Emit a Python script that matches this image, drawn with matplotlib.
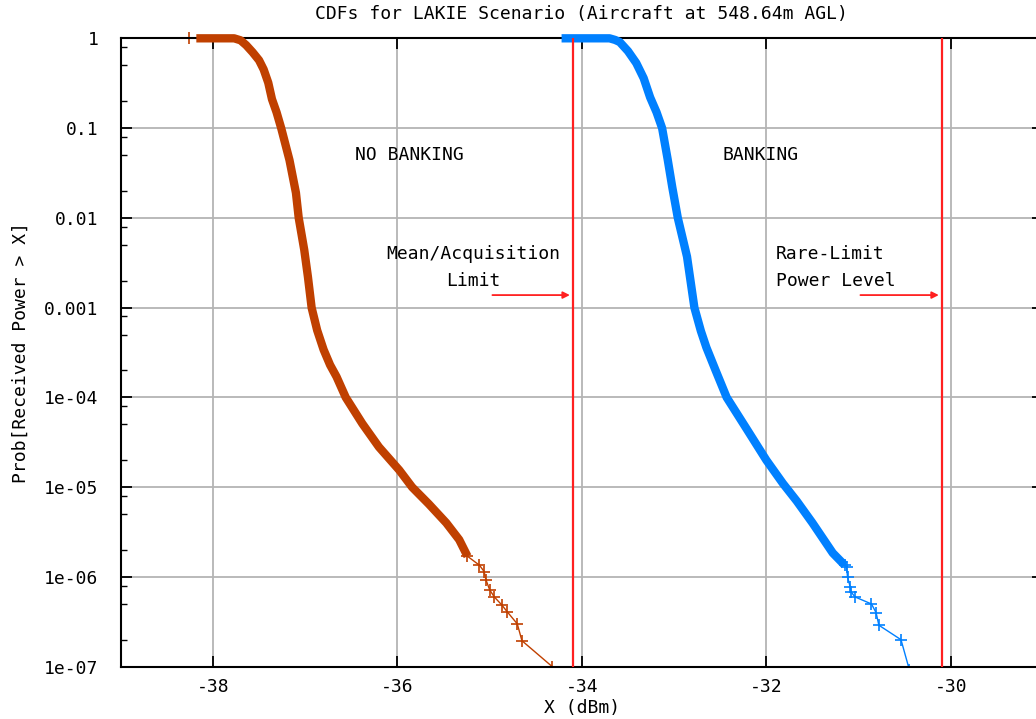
import matplotlib
matplotlib.use("Agg")
import matplotlib.pyplot as plt
from matplotlib.ticker import LogLocator, NullFormatter

plt.rcParams['font.family'] = ['DejaVu Sans Mono']

# NO BANKING curve (dBm, P[power > x])
nobank_x = [-38.26, -38.18, -37.77, -37.70, -37.64, -37.57, -37.50, -37.45, -37.40, -37.36,
            -37.31, -37.26, -37.17, -37.10, -37.07, -37.01, -36.97, -36.93, -36.87, -36.80,
            -36.73, -36.66, -36.56, -36.38, -36.20, -35.98, -35.84, -35.66, -35.47, -35.33,
            -35.24, -35.11, -35.06, -35.04, -35.00, -34.95, -34.87, -34.81, -34.70, -34.65,
            -34.32]
nobank_p = [1.0, 1.0, 1.0, 0.95, 0.84, 0.70, 0.57, 0.45, 0.32, 0.21,
            0.15, 0.1, 0.044, 0.019, 0.01, 4.4e-3, 2.2e-3, 1.0e-3, 5.6e-4, 3.4e-4,
            2.3e-4, 1.7e-4, 1.0e-4, 5.1e-5, 2.8e-5, 1.55e-5, 1.0e-5, 6.5e-6, 4.0e-6, 2.6e-6,
            1.7e-6, 1.35e-6, 1.15e-6, 9.3e-7, 7.2e-7, 6.0e-7, 4.9e-7, 4.1e-7, 3.0e-7, 1.95e-7,
            1.0e-7]
nobank_dense = (1, 31)

# BANKING curve
bank_x = [-34.22, -33.70, -33.64, -33.59, -33.50, -33.41, -33.33, -33.26, -33.19, -33.13,
          -33.07, -33.02, -32.96, -32.86, -32.78, -32.71, -32.65, -32.55, -32.43, -32.21,
          -32.00, -31.82, -31.67, -31.50, -31.28, -31.15, -31.13, -31.12, -31.09, -31.08,
          -31.04, -30.86, -30.81, -30.78, -30.54, -30.45]
bank_p = [1.0, 1.0, 0.96, 0.91, 0.72, 0.53, 0.36, 0.22, 0.15, 0.1,
          0.045, 0.022, 0.01, 3.7e-3, 1.0e-3, 5.5e-4, 3.6e-4, 2.0e-4, 1.0e-4, 4.4e-5,
          2.0e-5, 1.1e-5, 7.0e-6, 4.0e-6, 1.85e-6, 1.35e-6, 1.3e-6, 1.0e-6, 7.7e-7, 6.8e-7,
          6.0e-7, 5.0e-7, 4.0e-7, 2.9e-7, 2.0e-7, 9.3e-8]
bank_dense = (0, 26)

mean_limit = -34.1
rare_limit = -30.1

xticks = [-38, -36, -34, -32, -30]
yticks = [1, 0.1, 0.01, 0.001, 1e-4, 1e-5, 1e-6, 1e-7]
ytick_labels = ['1', '0.1', '0.01', '0.001', '1e-04', '1e-05', '1e-06', '1e-07']

brown = '#c04000'
blue = '#0080ff'
red = '#ff2020'

fig = plt.figure(figsize=(10.36, 7.19), dpi=100)
ax = fig.add_axes([0.1165, 0.0727, 0.8903, 0.874])
ax.set_yscale('log')
ax.set_xlim(-39, -29)
ax.set_ylim(1e-7, 1)

ax.grid(True, which='major', color='#b4b4b4', lw=1.3)
ax.set_axisbelow(True)

for xs, ps, (a, b), c in [(nobank_x, nobank_p, nobank_dense, brown),
                          (bank_x, bank_p, bank_dense, blue)]:
    # thin line everywhere, + markers where the points are sparse
    ax.plot(xs, ps, color=c, lw=1.0)
    ax.plot(xs[b - 1:], ps[b - 1:], ls='none', color=c, marker='+', ms=8, mew=1.2)
    if a > 0:
        ax.plot(xs[:a], ps[:a], ls='none', color=c, marker='|', ms=8, mew=1.2,
                clip_on=False)
    # dense part looks like a solid band
    ax.plot(xs[a:b], ps[a:b], color=c, lw=6, solid_capstyle='butt',
            solid_joinstyle='round', clip_on=False, zorder=3)

ax.axvline(mean_limit, color=red, lw=1.6, zorder=4)
ax.axvline(rare_limit, color=red, lw=1.6, zorder=4)

arrow_y = 1.38e-3
ax.annotate('', xy=(mean_limit, arrow_y), xytext=(-35.0, arrow_y),
            arrowprops=dict(arrowstyle='-|>', color=red, lw=1.3, mutation_scale=10))
ax.annotate('', xy=(rare_limit, arrow_y), xytext=(-31.01, arrow_y),
            arrowprops=dict(arrowstyle='-|>', color=red, lw=1.3, mutation_scale=10))

fs = 13
ax.text(-35.87, 0.05, 'NO BANKING', ha='center', va='center', fontsize=fs)
ax.text(-32.06, 0.05, 'BANKING', ha='center', va='center', fontsize=fs)
ax.text(-35.18, 0.004, 'Mean/Acquisition', ha='center', va='center', fontsize=fs)
ax.text(-35.18, 0.002, 'Limit', ha='center', va='center', fontsize=fs)
ax.text(-31.9, 0.004, 'Rare-Limit', ha='left', va='center', fontsize=fs)
ax.text(-31.9, 0.002, 'Power Level', ha='left', va='center', fontsize=fs)

ax.set_xticks(xticks)
ax.set_xticklabels([str(t) for t in xticks])
ax.set_yticks(yticks)
ax.set_yticklabels(ytick_labels)
ax.yaxis.set_minor_locator(LogLocator(base=10, subs=(0.2, 0.5, 0.8), numticks=20))
ax.yaxis.set_minor_formatter(NullFormatter())
ax.tick_params(which='major', direction='in', length=8, width=1.3, labelsize=fs,
               top=True, right=True)
ax.tick_params(axis='x', which='major', pad=8)
ax.tick_params(axis='y', which='major', pad=16)
ax.tick_params(which='minor', direction='in', length=4, width=1.0, right=True)

for s in ax.spines.values():
    s.set_linewidth(1.5)

ax.set_title('CDFs for LAKIE Scenario (Aircraft at 548.64m AGL)', fontsize=fs, pad=14)
ax.set_xlabel('X (dBm)', fontsize=fs, labelpad=2)
ax.set_ylabel('Prob[Received Power > X]', fontsize=fs, labelpad=10)

fig.savefig('out.png', dpi=100)
